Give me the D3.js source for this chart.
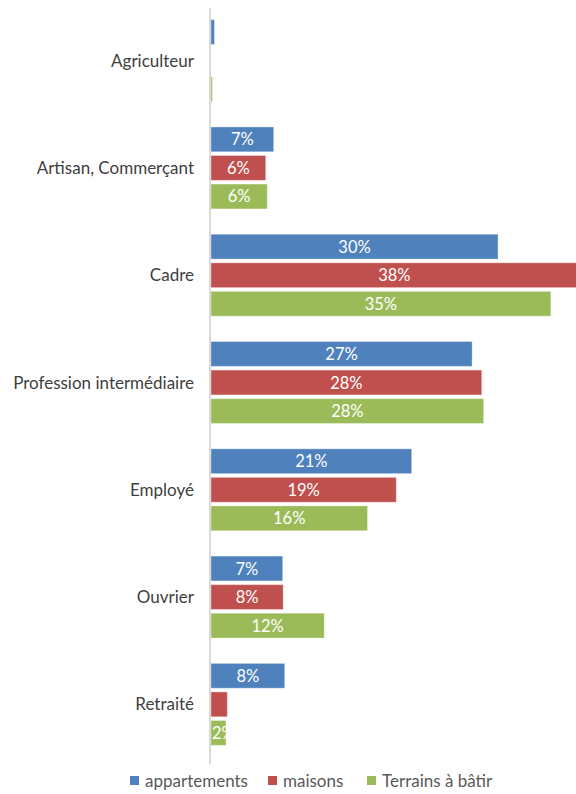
<!DOCTYPE html>
<html>
<head>
<meta charset="utf-8">
<script src="https://d3js.org/d3.v7.min.js"></script>
<style>
  body { margin: 0; background: #fff; }
  svg { display: block; font-family: Lato, "Open Sans", sans-serif; }
</style>
</head>
<body>
<div id="chart"></div>
<script>
// categories top -> bottom
var categories = ["Agriculteur", "Artisan, Commerçant", "Cadre", "Profession intermédiaire", "Employé", "Ouvrier", "Retraité"];
var seriesNames = ["appartements", "maisons", "Terrains à bâtir"];
var colors = ["#4F81BD", "#C0504D", "#9BBB59"];

// values in %
var appartements = [0.36, 6.53, 29.9, 27.2, 20.9, 7.47, 7.68];
var maisons      = [0, 5.70, 38.2, 28.2, 19.3, 7.52, 1.7];
var terrains     = [0.15, 5.86, 35.4, 28.4, 16.3, 11.8, 1.56];
// labels Excel did not draw
var hiddenLabels = ["Agriculteur|0", "Agriculteur|1", "Agriculteur|2", "Retraité|1"];

var width = 576, height = 794;
var seriesValues = [appartements, maisons, terrains];

var rows = [];
categories.forEach(function(c, i) {
  seriesNames.forEach(function(s, j) {
    rows.push({cat: c, s: j, value: seriesValues[j][i]});
  });
});

var svg = d3.select("#chart").append("svg")
  .attr("width", width)
  .attr("height", height);

var x = d3.scaleLinear().domain([0, 40]).range([211, 211 + 384]);
var y = d3.scaleBand().domain(categories).range([7, 758]).paddingInner(0.236).paddingOuter(0.118);
var y1 = d3.scaleBand().domain([0, 1, 2]).range([0, y.bandwidth()]).paddingInner(0.13);

var defs = svg.append("defs");

var bars = svg.append("g").selectAll("g.bar")
  .data(rows)
  .enter().append("g")
  .attr("class", "bar");

bars.each(function(d, i) {
  defs.append("clipPath").attr("id", "clip" + i)
    .append("rect")
    .attr("x", x(0))
    .attr("y", y(d.cat) + y1(d.s))
    .attr("width", Math.max(0, x(d.value) - x(0)))
    .attr("height", y1.bandwidth());
});

bars.append("rect")
  .attr("x", x(0))
  .attr("y", function(d) { return y(d.cat) + y1(d.s); })
  .attr("width", function(d) { return Math.max(0, x(d.value) - x(0)); })
  .attr("height", y1.bandwidth())
  .attr("fill", function(d) { return colors[d.s]; })
  .attr("stroke", "rgba(255,255,255,0.35)")
  .attr("stroke-width", 1);

bars.filter(function(d) { return hiddenLabels.indexOf(d.cat + "|" + d.s) < 0; })
  .append("text")
  .attr("clip-path", function(d) { return "url(#clip" + rows.indexOf(d) + ")"; })
  .attr("x", function(d) {
    var w = x(d.value) - x(0);
    return w < 30 ? x(0) + 1 : (x(0) + x(d.value)) / 2;
  })
  .attr("y", function(d) { return y(d.cat) + y1(d.s) + y1.bandwidth() / 2 + 6; })
  .attr("text-anchor", function(d) { return (x(d.value) - x(0)) < 30 ? "start" : "middle"; })
  .attr("fill", "#fff")
  .style("font-size", "16.5px")
  .text(function(d) { return Math.round(d.value) + "%"; });

// vertical axis line
svg.append("line")
  .attr("x1", 210).attr("x2", 210)
  .attr("y1", 8).attr("y2", 764)
  .attr("stroke", "#d9d9d9")
  .attr("stroke-width", 2);

// category labels
svg.append("g").selectAll("text")
  .data(categories)
  .enter().append("text")
  .attr("x", 194)
  .attr("y", function(d) { return y(d) + y.bandwidth() / 2 + 6; })
  .attr("text-anchor", "end")
  .attr("fill", "#404040")
  .style("font-size", "17px")
  .text(function(d) { return d; });

// legend
var legendX = [130, 268, 367];
var legend = svg.append("g").selectAll("g")
  .data(seriesNames)
  .enter().append("g")
  .attr("transform", function(d, i) { return "translate(" + legendX[i] + ",776)"; });

legend.append("rect")
  .attr("width", 9).attr("height", 9)
  .attr("fill", function(d, i) { return colors[i]; });

legend.append("text")
  .attr("x", 15).attr("y", 11)
  .attr("fill", "#595959")
  .style("font-size", "17px")
  .text(function(d) { return d; });
</script>
</body>
</html>
